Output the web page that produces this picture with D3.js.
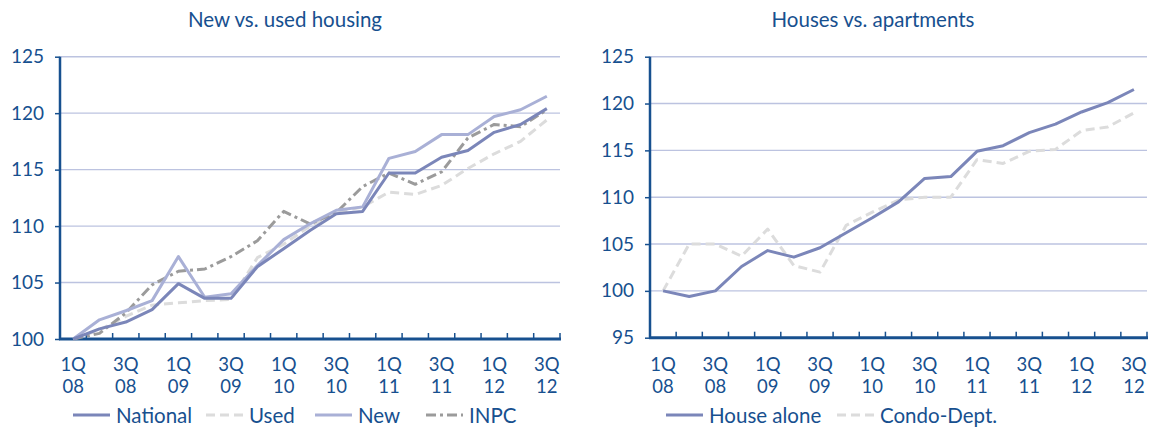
<!DOCTYPE html>
<html>
<head>
<meta charset="utf-8">
<script src="https://cdn.jsdelivr.net/npm/d3@7"></script>
<style>
    body { margin: 0; background: #fff; }
    text { font-family: Lato, "Open Sans", sans-serif; fill: #17508f; }
</style>
</head>
<body>
<div id="chart"></div>
<script>
// quarters 1Q08 .. 3Q12
let quarters = ["1Q 08", "2Q 08", "3Q 08", "4Q 08", "1Q 09", "2Q 09", "3Q 09", "4Q 09",
    "1Q 10", "2Q 10", "3Q 10", "4Q 10", "1Q 11", "2Q 11", "3Q 11", "4Q 11",
    "1Q 12", "2Q 12", "3Q 12"];

// left panel: new vs used
let national = [100, 100.9, 101.5, 102.6, 104.9, 103.6, 103.6, 106.4, 108.0, 109.6,
    111.1, 111.3, 114.7, 114.7, 116.1, 116.7, 118.3, 119.0, 120.4];
let used = [100, 100.8, 102.0, 103.0, 103.2, 103.4, 103.5, 107.2, 108.4, 110.0,
    111.2, 111.7, 113.0, 112.8, 113.6, 115.1, 116.4, 117.5, 119.4];
let newHousing = [100, 101.7, 102.5, 103.4, 107.3, 103.7, 104.0, 106.5, 108.8, 110.2,
    111.4, 111.7, 116.0, 116.6, 118.1, 118.1, 119.7, 120.3, 121.5];
let inpc = [100, 100.5, 102.3, 104.8, 106.0, 106.2, 107.3, 108.7, 111.3, 110.2,
    111.2, 113.5, 114.7, 113.7, 114.8, 117.8, 119.0, 118.8, 120.3];

// right panel: houses vs apartments
let houseAlone = [100, 99.4, 100.0, 102.6, 104.3, 103.6, 104.6, 106.2, 107.8, 109.5,
    112.0, 112.2, 114.9, 115.5, 116.9, 117.8, 119.1, 120.1, 121.5];
let condo = [100, 105.0, 105.0, 103.7, 106.6, 102.7, 102.0, 107.0, 108.4, 109.7,
    110.0, 110.0, 114.0, 113.6, 114.9, 115.1, 117.1, 117.5, 119.0];

let leftTicks = [100, 105, 110, 115, 120, 125];
let rightTicks = [95, 100, 105, 110, 115, 120, 125];

let blue = "#17508f";

let svg = d3.select("#chart").append("svg")
    .attr("width", 1151)
    .attr("height", 432);

function drawPanel(opt) {
    let g = svg.append("g");

    let x = d3.scaleBand().domain(quarters).range([opt.left, opt.right]).padding(0);
    let y = d3.scaleLinear().domain(opt.domain).range([opt.bottom, opt.top]);

    // title
    g.append("text")
        .attr("x", opt.titleX)
        .attr("y", 27)
        .attr("text-anchor", "middle")
        .style("font-size", "20.5px")
        .text(opt.title);

    // grid lines
    g.selectAll(".grid")
        .data(opt.ticks.slice(1))
        .enter()
        .append("line")
        .attr("x1", opt.left)
        .attr("x2", opt.right)
        .attr("y1", d => y(d))
        .attr("y2", d => y(d))
        .attr("stroke", "#bcc3e0")
        .attr("stroke-width", 1.4);

    // y axis
    let yAxis = g.append("g")
        .attr("transform", "translate(" + opt.left + ",0)")
        .call(d3.axisLeft(y).tickValues(opt.ticks).tickSize(5).tickPadding(11).tickFormat(d3.format("d")));
    yAxis.select(".domain").remove();
    yAxis.selectAll(".tick line").attr("stroke", blue).attr("stroke-width", 1.5);
    yAxis.selectAll(".tick text")
        .attr("fill", blue)
        .style("font-family", "Lato, sans-serif")
        .style("font-size", "19px");
    g.append("line")
        .attr("x1", opt.left).attr("x2", opt.left)
        .attr("y1", opt.top).attr("y2", opt.bottom)
        .attr("stroke", blue).attr("stroke-width", 2.5);

    // x axis with inward ticks at category edges
    let edges = d3.range(1, quarters.length + 1).map(i => opt.left + i * x.bandwidth());
    g.selectAll(".xtick")
        .data(edges)
        .enter()
        .append("line")
        .attr("x1", d => d).attr("x2", d => d)
        .attr("y1", opt.bottom).attr("y2", opt.bottom - 6)
        .attr("stroke", blue).attr("stroke-width", 1.5);
    g.append("line")
        .attr("x1", opt.left - 1).attr("x2", opt.right + 1)
        .attr("y1", opt.bottom).attr("y2", opt.bottom)
        .attr("stroke", blue).attr("stroke-width", 3);

    // category labels, every second quarter, two rows
    let shown = quarters.filter((q, i) => i % 2 === 0);
    [0, 1].forEach(function (row) {
        g.selectAll(".xlabel" + row)
            .data(shown)
            .enter()
            .append("text")
            .attr("text-anchor", "middle")
            .attr("x", d => x(d) + x.bandwidth() / 2)
            .attr("y", row === 0 ? 370.5 : 393)
            .style("font-size", "18.5px")
            .text(d => d.split(" ")[row]);
    });

    // series
    let line = d3.line()
        .x((d, i) => x(quarters[i]) + x.bandwidth() / 2)
        .y(d => y(d));

    opt.series.forEach(function (s) {
        g.append("path")
            .datum(s.values)
            .attr("d", line)
            .attr("fill", "none")
            .attr("stroke", s.color)
            .attr("stroke-width", 3)
            .attr("stroke-linejoin", "round")
            .attr("stroke-dasharray", s.dash || null);
    });

    // legend
    let lx = opt.legendX;
    opt.legend.forEach(function (s, i) {
        let item = g.append("g").attr("transform", "translate(" + lx[i] + ",415)");
        item.append("line")
            .attr("x1", 0).attr("x2", 37)
            .attr("stroke", s.color)
            .attr("stroke-width", 3)
            .attr("stroke-dasharray", s.dash || null);
        item.append("text")
            .attr("x", 43)
            .attr("y", 8)
            .style("font-size", "20.5px")
            .text(s.name);
    });
}

let sNational = { name: "National", values: national, color: "#7b86b9" },
    sUsed = { name: "Used", values: used, color: "#dcdcdc", dash: "9,5" },
    sNew = { name: "New", values: newHousing, color: "#a9b0d6" },
    sInpc = { name: "INPC", values: inpc, color: "#9b9b9b", dash: "10,4,3,4" };

drawPanel({
    title: "New vs. used housing",
    titleX: 285,
    left: 60, right: 560, top: 56.7, bottom: 339,
    domain: [100, 125],
    ticks: leftTicks,
    legendX: [73, 206, 315, 426],
    series: [sUsed, sInpc, sNew, sNational],
    legend: [sNational, sUsed, sNew, sInpc]
});

let sHouse = { name: "House alone", values: houseAlone, color: "#7b86b9" },
    sCondo = { name: "Condo-Dept.", values: condo, color: "#dcdcdc", dash: "9,5" };

drawPanel({
    title: "Houses vs. apartments",
    titleX: 873,
    left: 650, right: 1147, top: 56.7, bottom: 337.7,
    domain: [95, 125],
    ticks: rightTicks,
    legendX: [666, 837],
    series: [sCondo, sHouse],
    legend: [sHouse, sCondo]
});
</script>
</body>
</html>
